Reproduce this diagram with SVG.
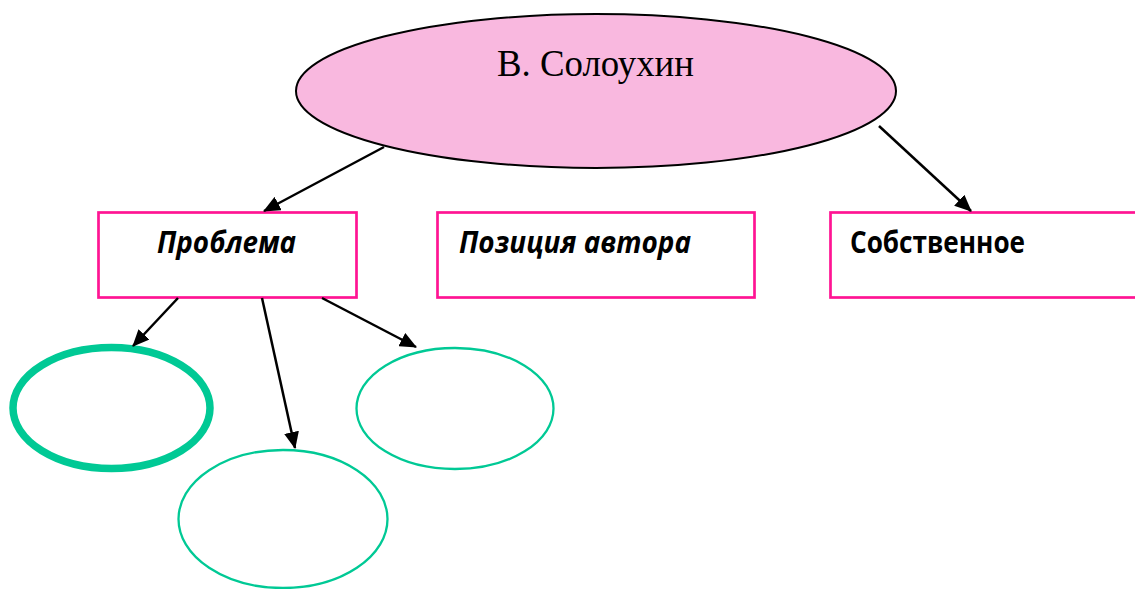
<svg xmlns="http://www.w3.org/2000/svg" width="1135" height="589" viewBox="0 0 1135 589">
<style>
.box{fill:#FFFFFF;stroke:#FF1493;stroke-width:2.7}
.lbl{font-family:"Open Sans","Liberation Sans",sans-serif;font-weight:bold;font-size:30px;fill:#000}
.it{font-style:italic}
.oval{fill:#FFFFFF;stroke:#00C995;stroke-width:2.3}
.conn{stroke:#000;stroke-width:2.5;fill:none;marker-end:url(#ah)}
</style>
<defs>
<marker id="ah" markerUnits="userSpaceOnUse" markerWidth="17" markerHeight="15" viewBox="0 0 17 15" refX="16" refY="7.5" orient="auto">
<path d="M0,0 L17,7.5 L0,15 Z" fill="#000"/>
</marker>
</defs>
<rect width="1135" height="589" fill="#FFFFFF"/>
<g id="root">
<ellipse cx="596" cy="91" rx="300" ry="77" fill="#F9B8DF" stroke="#000" stroke-width="2"/>
<text x="497" y="76" font-family="'Liberation Serif','Times New Roman',serif" font-size="37" fill="#000" textLength="197" lengthAdjust="spacingAndGlyphs">В. Солоухин</text>
</g>
<g id="problema">
<rect class="box" x="98.5" y="212.5" width="258" height="85"/>
<text class="lbl it" x="157" y="252.5" textLength="139" lengthAdjust="spacingAndGlyphs">Проблема</text>
</g>
<g id="poziciya">
<rect class="box" x="437.5" y="212.5" width="317" height="85"/>
<text class="lbl it" x="459" y="252.5" textLength="232" lengthAdjust="spacingAndGlyphs">Позиция автора</text>
</g>
<g id="sobstvennoe">
<rect class="box" x="830.5" y="212.5" width="320" height="85"/>
<text class="lbl" x="850" y="252.5" textLength="175" lengthAdjust="spacingAndGlyphs">Собственное</text>
</g>
<g id="oval1">
<ellipse cx="111.5" cy="408" rx="98.5" ry="60.5" fill="#FFFFFF" stroke="#00C995" stroke-width="7.5"/>
</g>
<g id="oval2">
<ellipse class="oval" cx="283" cy="519" rx="104.5" ry="69"/>
</g>
<g id="oval3">
<ellipse class="oval" cx="455" cy="408.5" rx="98.5" ry="60.5"/>
</g>
<g id="connectors">
<line class="conn" x1="384" y1="147" x2="264" y2="211"/>
<line class="conn" x1="879" y1="126" x2="971" y2="211"/>
<line class="conn" x1="178" y1="298" x2="133" y2="346"/>
<line class="conn" x1="262" y1="298" x2="295" y2="448"/>
<line class="conn" x1="322" y1="298" x2="416" y2="347"/>
</g>
</svg>
